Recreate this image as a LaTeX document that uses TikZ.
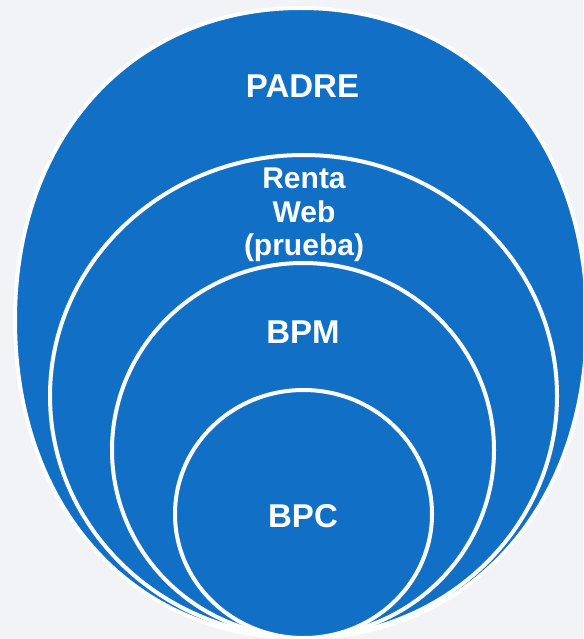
\documentclass[tikz,border=0pt]{standalone}
\usepackage{fontspec}
\setmainfont{Liberation Sans}
\usetikzlibrary{shapes.geometric}
\definecolor{ringblue}{HTML}{1170C6}
\definecolor{bgpale}{HTML}{F2F3F7}
\tikzset{
  ringline/.style={draw=white, fill=ringblue, line width=4pt},
  ring/.style={ellipse, ringline, inner sep=0pt, outer sep=0pt},
  lbl/.style={text=white, font=\bfseries\fontsize{33}{34}\selectfont, anchor=base, inner sep=0pt},
  lblsmall/.style={text=white, font=\bfseries\fontsize{30}{34}\selectfont, anchor=base, inner sep=0pt}
}
\begin{document}
\begin{tikzpicture}[x=1pt,y=-1pt]
\clip (0,0) rectangle (583,639);
\fill[bgpale] (0,0) rectangle (583,639);
% outer (slightly fuller than an ellipse)
\coordinate (pt) at (301,8);
\coordinate (pl) at (15,320);
\coordinate (pb) at (301,638);
\coordinate (pr) at (587,320);
\path[ringline] (pt) .. controls (132.3,8) and (15,135.9) .. (pl)
  .. controls (15,507.6) and (132.3,638) .. (pb)
  .. controls (469.7,638) and (587,507.6) .. (pr)
  .. controls (587,135.9) and (469.7,8) .. (pt) -- cycle;
\node[ring, minimum width=507pt, minimum height=482pt] (renta) at (303.5,396) {};
\node[ring, minimum width=382pt, minimum height=374pt] (bpm) at (303,450) {};
\node[ring, minimum width=257pt, minimum height=248pt] (bpc) at (303.5,514) {};
\node[lbl] (tpadre) at (302.5,98) {PADRE};
\node[lblsmall] (trenta1) at (304,188) {Renta};
\node[lblsmall] (trenta2) at (304,222) {Web};
\node[lblsmall] (trenta3) at (304,255) {(prueba)};
\node[lbl] (tbpm) at (303,343) {BPM};
\node[lbl] (tbpc) at (303,527) {BPC};
\end{tikzpicture}
\end{document}
